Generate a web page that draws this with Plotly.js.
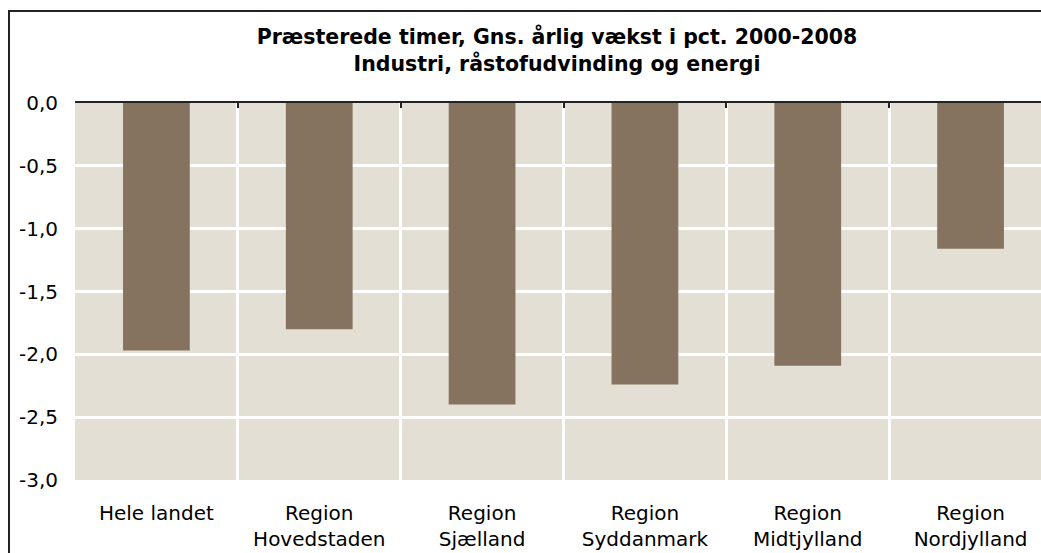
<!DOCTYPE html>
<html>
<head>
<meta charset="utf-8">
<script src="https://cdn.plot.ly/plotly-3.0.1.min.js"></script>
<style>
html, body { margin: 0; padding: 0; overflow: hidden; background: #fff; }
#frame { position: absolute; left: 8px; top: 10px; width: 1200px; height: 700px; border: 2px solid #222; box-sizing: border-box; z-index: 10; pointer-events: none; }
#chart { position: absolute; left: 0; top: 0; }
</style>
</head>
<body>
<div id="chart"></div>
<div id="frame"></div>
<script>
const categories = ["Hele landet", "Region<br>Hovedstaden", "Region<br>Sjælland", "Region<br>Syddanmark", "Region<br>Midtjylland", "Region<br>Nordjylland"];
const values = [-1.97, -1.80, -2.40, -2.24, -2.09, -1.16];
const yTickVals = [0, -0.5, -1, -1.5, -2, -2.5, -3];
const yTickText = ["0,0", "-0,5", "-1,0", "-1,5", "-2,0", "-2,5", "-3,0"];
const titleText = "Præsterede timer, Gns. årlig vækst i pct. 2000-2008<br>Industri, råstofudvinding og energi";

const W = 1110, H = 560;
const font = {family: "DejaVu Sans, Verdana, sans-serif", size: 20, color: "#000"};

const data = [
  {type: "bar", x: categories, y: values, marker: {color: "#85735f"}, hoverinfo: "skip", xaxis: "x", yaxis: "y"},
  {type: "bar", x: categories, y: values, marker: {color: "rgba(0,0,0,0)"}, hoverinfo: "skip", xaxis: "x2", yaxis: "y", showlegend: false}
];

const layout = {
  width: W, height: H,
  margin: {l: 75, r: 58, t: 103, b: 80},
  paper_bgcolor: "#fff",
  plot_bgcolor: "#e3dfd5",
  showlegend: false,
  bargap: 0.59,
  font: font,
  title: {
    text: titleText,
    font: {family: "DejaVu Sans, Verdana, sans-serif", size: 20.5, color: "#000", weight: "bold"},
    xref: "container", x: 557 / W, xanchor: "center",
    yref: "container", y: 1 - 44 / H, yanchor: "top"
  },
  xaxis: {
    type: "category",
    tickson: "boundaries",
    showgrid: true, gridcolor: "#fff", gridwidth: 3,
    showline: false, zeroline: false,
    ticks: "", ticklabelstandoff: 19,
    tickfont: font,
    fixedrange: true
  },
  xaxis2: {
    type: "category",
    overlaying: "x", matches: "x", side: "top", anchor: "y",
    tickson: "boundaries",
    showgrid: false, showline: true, linecolor: "#222", linewidth: 2,
    ticks: "inside", ticklen: 5, tickwidth: 2, tickcolor: "#222",
    showticklabels: false,
    fixedrange: true
  },
  yaxis: {
    range: [-3, 0],
    tickvals: yTickVals, ticktext: yTickText,
    showgrid: true, gridcolor: "#fff", gridwidth: 3,
    zeroline: false, showline: false,
    ticks: "", ticklabelstandoff: 16,
    tickfont: font,
    fixedrange: true
  }
};

Plotly.newPlot("chart", data, layout, {staticPlot: true, displayModeBar: false});
</script>
</body>
</html>
